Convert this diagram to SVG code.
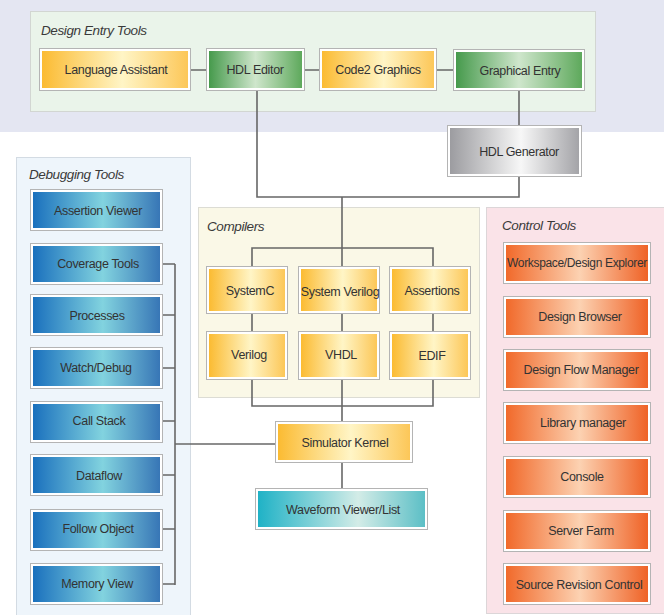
<svg xmlns="http://www.w3.org/2000/svg" width="664" height="615" viewBox="0 0 664 615">
  <style>
    .panel-title { font-family: "Liberation Sans", "DejaVu Sans", sans-serif; font-style: italic; font-size: 13.5px; fill: #3a3a3a; letter-spacing: -0.4px; }
    .label { font-family: "Liberation Sans", "DejaVu Sans", sans-serif; font-size: 12.5px; fill: #333; text-anchor: middle; dominant-baseline: central; letter-spacing: -0.35px; }
    .frame { fill: #ffffff; stroke: #b4b4b4; stroke-width: 1; }
    .wire { fill: none; stroke: #676767; stroke-width: 1.6; }
  </style>
  <defs>
    <linearGradient id="gYellow" x1="0" y1="0" x2="1" y2="0">
      <stop offset="0" stop-color="#fbbb32"/>
      <stop offset="0.55" stop-color="#fff5c6"/>
      <stop offset="1" stop-color="#fcc758"/>
    </linearGradient>
    <linearGradient id="gGreen" x1="0" y1="0" x2="1" y2="0">
      <stop offset="0" stop-color="#469a4c"/>
      <stop offset="0.5" stop-color="#cfe6cc"/>
      <stop offset="1" stop-color="#5ea95c"/>
    </linearGradient>
    <linearGradient id="gGray" x1="0" y1="0" x2="1" y2="0">
      <stop offset="0" stop-color="#9c9ca0"/>
      <stop offset="0.55" stop-color="#f7f7f7"/>
      <stop offset="1" stop-color="#a4a4a8"/>
    </linearGradient>
    <linearGradient id="gBlue" x1="0" y1="0" x2="1" y2="0">
      <stop offset="0" stop-color="#1a70bd"/>
      <stop offset="0.55" stop-color="#82d3df"/>
      <stop offset="1" stop-color="#3776b6"/>
    </linearGradient>
    <linearGradient id="gTeal" x1="0" y1="0" x2="1" y2="0">
      <stop offset="0" stop-color="#1fb2c6"/>
      <stop offset="0.6" stop-color="#d3ece7"/>
      <stop offset="1" stop-color="#5cbfc6"/>
    </linearGradient>
    <linearGradient id="gOrange" x1="0" y1="0" x2="1" y2="0">
      <stop offset="0" stop-color="#f1692a"/>
      <stop offset="0.52" stop-color="#fcd2b2"/>
      <stop offset="1" stop-color="#ef6226"/>
    </linearGradient>
  </defs>

  <!-- background bands -->
  <rect x="0" y="0" width="664" height="615" fill="#ffffff"/>
  <rect x="0" y="0" width="664" height="132" fill="#e4e6f2"/>

  <!-- panels -->
  <g id="panel-design-entry">
    <rect x="30.5" y="11.5" width="565" height="100" fill="#eaf4ea" stroke="#d2d6d2"/>
    <text class="panel-title" x="41" y="35">Design Entry Tools</text>
  </g>
  <g id="panel-debugging">
    <rect x="16.5" y="157.5" width="174" height="470" fill="#eef5fb" stroke="#d3dbe3"/>
    <text class="panel-title" x="29" y="179">Debugging Tools</text>
  </g>
  <g id="panel-compilers">
    <rect x="198.5" y="207.5" width="281" height="190" fill="#faf8e7" stroke="#dcdcd4"/>
    <text class="panel-title" x="207" y="231">Compilers</text>
  </g>
  <g id="panel-control">
    <rect x="486.5" y="207.5" width="190" height="406" fill="#fae3e8" stroke="#dcd6d8"/>
    <text class="panel-title" x="502" y="230">Control Tools</text>
  </g>

  <!-- connectors -->
  <g id="connectors" class="wire">
    <path d="M191 70 H206 M305 70 H319 M437 70 H453"/>
    <path d="M519 91 V125"/>
    <path d="M257 91 V197 H519 V177"/>
    <path d="M342 197 V266"/>
    <path d="M252 266 V248 H433 V266"/>
    <path d="M252 314 V331 M342 314 V331 M433 314 V331"/>
    <path d="M252 380 V406 H433 V380 M342 380 V421"/>
    <path d="M342 463 V488"/>
    <path d="M175 264 V585"/>
    <path d="M163 264 H175 M163 315 H175 M163 368 H175 M163 421 H175 M163 475 H175 M163 529 H175 M163 584 H175"/>
    <path d="M175 444 H275"/>
  </g>

  <!-- design entry tools -->
  <g id="language-assistant">
    <rect class="frame" x="39.5" y="48.5" width="151" height="42"/>
    <rect x="42" y="51" width="146" height="37" fill="url(#gYellow)"/>
    <text class="label" x="116" y="70">Language Assistant</text>
  </g>
  <g id="hdl-editor">
    <rect class="frame" x="206.5" y="48.5" width="98" height="42"/>
    <rect x="209" y="51" width="93" height="37" fill="url(#gGreen)"/>
    <text class="label" x="255" y="70">HDL Editor</text>
  </g>
  <g id="code2-graphics">
    <rect class="frame" x="319.5" y="48.5" width="117" height="42"/>
    <rect x="322" y="51" width="112" height="37" fill="url(#gYellow)"/>
    <text class="label" x="378" y="70">Code2 Graphics</text>
  </g>
  <g id="graphical-entry">
    <rect class="frame" x="453.5" y="49.5" width="131" height="41"/>
    <rect x="456" y="52" width="126" height="36" fill="url(#gGreen)"/>
    <text class="label" x="520" y="71">Graphical Entry</text>
  </g>
  <g id="hdl-generator">
    <rect class="frame" x="447.5" y="125.5" width="134" height="51"/>
    <rect x="450" y="128" width="129" height="46" fill="url(#gGray)"/>
    <text class="label" x="519" y="152">HDL Generator</text>
  </g>

  <!-- compilers -->
  <g id="systemc">
    <rect class="frame" x="206.5" y="266.5" width="81" height="47"/>
    <rect x="209" y="269" width="76" height="42" fill="url(#gYellow)"/>
    <text class="label" x="250" y="291">SystemC</text>
  </g>
  <g id="system-verilog">
    <rect class="frame" x="298.5" y="266.5" width="81" height="47"/>
    <rect x="301" y="269" width="76" height="42" fill="url(#gYellow)"/>
    <text class="label" x="340" y="292">System Verilog</text>
  </g>
  <g id="assertions">
    <rect class="frame" x="389.5" y="266.5" width="81" height="47"/>
    <rect x="392" y="269" width="76" height="42" fill="url(#gYellow)"/>
    <text class="label" x="432" y="291">Assertions</text>
  </g>
  <g id="verilog">
    <rect class="frame" x="206.5" y="331.5" width="81" height="48"/>
    <rect x="209" y="334" width="76" height="43" fill="url(#gYellow)"/>
    <text class="label" x="249" y="355">Verilog</text>
  </g>
  <g id="vhdl">
    <rect class="frame" x="298.5" y="331.5" width="81" height="48"/>
    <rect x="301" y="334" width="76" height="43" fill="url(#gYellow)"/>
    <text class="label" x="341" y="355">VHDL</text>
  </g>
  <g id="edif">
    <rect class="frame" x="389.5" y="331.5" width="81" height="48"/>
    <rect x="392" y="334" width="76" height="43" fill="url(#gYellow)"/>
    <text class="label" x="432" y="356">EDIF</text>
  </g>

  <!-- simulation -->
  <g id="simulator-kernel">
    <rect class="frame" x="275.5" y="421.5" width="137" height="41"/>
    <rect x="278" y="424" width="132" height="36" fill="url(#gYellow)"/>
    <text class="label" x="345" y="443">Simulator Kernel</text>
  </g>
  <g id="waveform-viewer">
    <rect class="frame" x="255.5" y="488.5" width="172" height="41"/>
    <rect x="258" y="491" width="167" height="36" fill="url(#gTeal)"/>
    <text class="label" x="343" y="510">Waveform Viewer/List</text>
  </g>

  <!-- debugging tools -->
  <g id="assertion-viewer">
    <rect class="frame" x="30.5" y="189.5" width="132" height="41"/>
    <rect x="33" y="192" width="127" height="36" fill="url(#gBlue)"/>
    <text class="label" x="98" y="211">Assertion Viewer</text>
  </g>
  <g id="coverage-tools">
    <rect class="frame" x="30.5" y="243.5" width="132" height="41"/>
    <rect x="33" y="246" width="127" height="36" fill="url(#gBlue)"/>
    <text class="label" x="98" y="264">Coverage Tools</text>
  </g>
  <g id="processes">
    <rect class="frame" x="30.5" y="294.5" width="132" height="41"/>
    <rect x="33" y="297" width="127" height="36" fill="url(#gBlue)"/>
    <text class="label" x="97" y="316">Processes</text>
  </g>
  <g id="watch-debug">
    <rect class="frame" x="30.5" y="347.5" width="132" height="41"/>
    <rect x="33" y="350" width="127" height="36" fill="url(#gBlue)"/>
    <text class="label" x="96" y="368">Watch/Debug</text>
  </g>
  <g id="call-stack">
    <rect class="frame" x="30.5" y="401.5" width="132" height="41"/>
    <rect x="33" y="404" width="127" height="36" fill="url(#gBlue)"/>
    <text class="label" x="99" y="421">Call Stack</text>
  </g>
  <g id="dataflow">
    <rect class="frame" x="30.5" y="454.5" width="132" height="41"/>
    <rect x="33" y="457" width="127" height="36" fill="url(#gBlue)"/>
    <text class="label" x="99" y="476">Dataflow</text>
  </g>
  <g id="follow-object">
    <rect class="frame" x="30.5" y="509.5" width="132" height="41"/>
    <rect x="33" y="512" width="127" height="36" fill="url(#gBlue)"/>
    <text class="label" x="98" y="529">Follow Object</text>
  </g>
  <g id="memory-view">
    <rect class="frame" x="30.5" y="563.5" width="132" height="41"/>
    <rect x="33" y="566" width="127" height="36" fill="url(#gBlue)"/>
    <text class="label" x="97" y="584">Memory View</text>
  </g>

  <!-- control tools -->
  <g id="workspace-explorer">
    <rect class="frame" x="503.5" y="242.5" width="147" height="41"/>
    <rect x="506" y="245" width="142" height="36" fill="url(#gOrange)"/>
    <text class="label" x="577" y="263" style="font-size:12px">Workspace/Design Explorer</text>
  </g>
  <g id="design-browser">
    <rect class="frame" x="503.5" y="296.5" width="147" height="41"/>
    <rect x="506" y="299" width="142" height="36" fill="url(#gOrange)"/>
    <text class="label" x="580" y="317">Design Browser</text>
  </g>
  <g id="design-flow-manager">
    <rect class="frame" x="503.5" y="349.5" width="147" height="41"/>
    <rect x="506" y="352" width="142" height="36" fill="url(#gOrange)"/>
    <text class="label" x="581" y="370">Design Flow Manager</text>
  </g>
  <g id="library-manager">
    <rect class="frame" x="503.5" y="402.5" width="147" height="41"/>
    <rect x="506" y="405" width="142" height="36" fill="url(#gOrange)"/>
    <text class="label" x="583" y="423">Library manager</text>
  </g>
  <g id="console">
    <rect class="frame" x="503.5" y="456.5" width="147" height="41"/>
    <rect x="506" y="459" width="142" height="36" fill="url(#gOrange)"/>
    <text class="label" x="582" y="477">Console</text>
  </g>
  <g id="server-farm">
    <rect class="frame" x="503.5" y="510.5" width="147" height="41"/>
    <rect x="506" y="513" width="142" height="36" fill="url(#gOrange)"/>
    <text class="label" x="581" y="531">Server Farm</text>
  </g>
  <g id="source-revision-control">
    <rect class="frame" x="503.5" y="563.5" width="147" height="41"/>
    <rect x="506" y="566" width="142" height="36" fill="url(#gOrange)"/>
    <text class="label" x="579" y="585">Source Revision Control</text>
  </g>
</svg>
